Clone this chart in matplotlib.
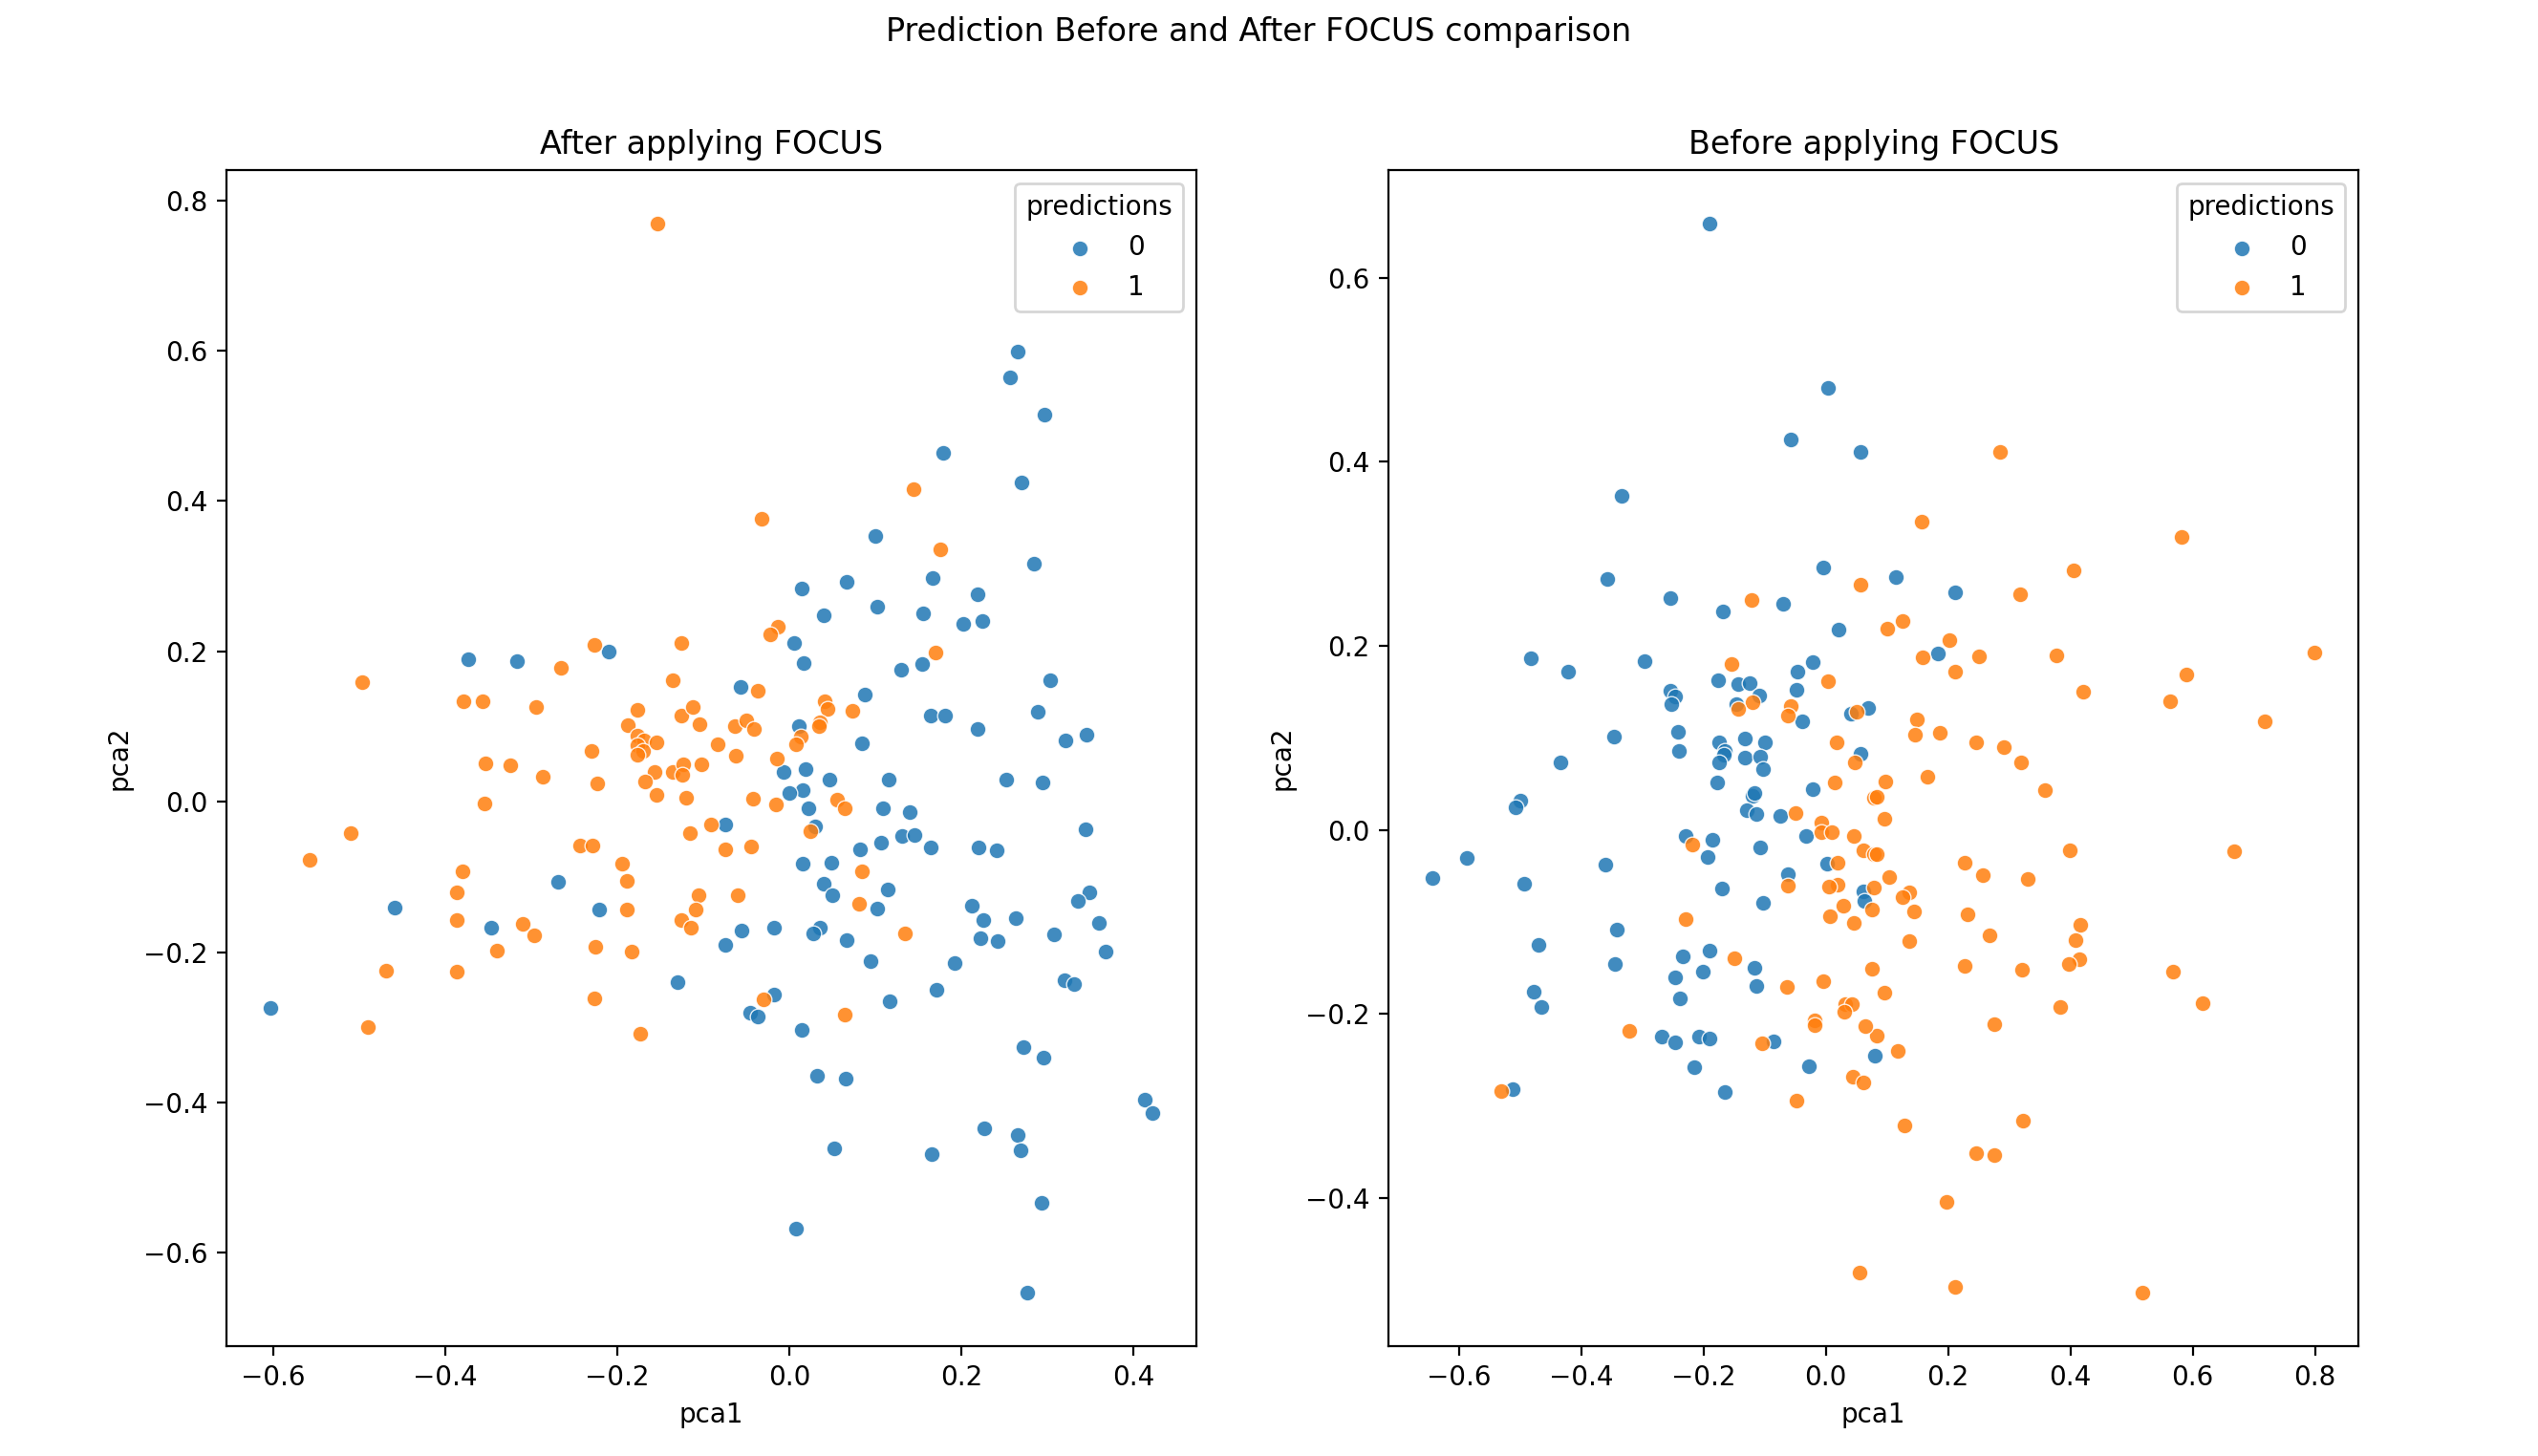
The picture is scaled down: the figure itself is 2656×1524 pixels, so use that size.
import matplotlib
matplotlib.use('Agg')
import matplotlib.pyplot as plt

# PCA coordinates after FOCUS, split by predicted class
after_x0 = [-0.373, -0.317, -0.210, -0.057, 0.006, 0.017, 0.040, 0.102, 0.156, 0.130,
            0.154, 0.088, 0.164, 0.011, 0.084, -0.007, 0.019, 0.047, 0.116, 0.016,
            0.000, 0.022, 0.109, 0.140, 0.030, -0.074, 0.131, 0.146, 0.107, 0.082,
            0.164, 0.016, 0.049, 0.040, 0.050, 0.114, 0.102, -0.221, -0.056, -0.074,
            -0.018, 0.036, 0.028, 0.067, 0.094, -0.130, 0.171, -0.459, -0.347, -0.603,
            -0.269, 0.212, 0.349, 0.335, 0.360, 0.368, 0.263, 0.225, 0.222, 0.242,
            0.308, 0.192, 0.320, 0.331, 0.117, -0.018, -0.046, -0.037, 0.014, 0.272,
            0.296, 0.032, 0.066, 0.413, 0.422, 0.227, 0.265, 0.269, 0.052, 0.165,
            0.293, 0.008, 0.277, 0.266, 0.257, 0.297, 0.179, 0.270, 0.100, 0.284,
            0.015, 0.067, 0.167, 0.219, 0.202, 0.224, 0.303, 0.181, 0.219, 0.289,
            0.321, 0.346, 0.252, 0.294, 0.220, 0.241, 0.344]
after_y0 = [0.189, 0.187, 0.200, 0.153, 0.211, 0.184, 0.248, 0.260, 0.251, 0.176,
            0.183, 0.142, 0.114, 0.101, 0.078, 0.040, 0.043, 0.029, 0.029, 0.016,
            0.011, -0.009, -0.009, -0.014, -0.033, -0.030, -0.046, -0.044, -0.055, -0.063,
            -0.061, -0.083, -0.081, -0.109, -0.124, -0.117, -0.142, -0.144, -0.171, -0.191,
            -0.168, -0.168, -0.175, -0.184, -0.212, -0.240, -0.250, -0.141, -0.168, -0.274,
            -0.106, -0.138, -0.121, -0.132, -0.161, -0.199, -0.155, -0.158, -0.182, -0.186,
            -0.176, -0.215, -0.237, -0.243, -0.266, -0.257, -0.281, -0.286, -0.303, -0.326,
            -0.340, -0.364, -0.368, -0.396, -0.414, -0.435, -0.443, -0.464, -0.461, -0.469,
            -0.533, -0.568, -0.653, 0.599, 0.564, 0.515, 0.464, 0.425, 0.353, 0.317,
            0.284, 0.292, 0.297, 0.276, 0.237, 0.240, 0.162, 0.115, 0.097, 0.119,
            0.081, 0.089, 0.030, 0.025, -0.061, -0.065, -0.037]

after_x1 = [-0.153, -0.496, -0.226, -0.265, -0.379, -0.356, -0.294, -0.125, -0.136, -0.177,
            -0.188, -0.126, -0.112, -0.104, -0.176, -0.169, -0.176, -0.170, -0.177, -0.154,
            -0.230, -0.353, -0.324, -0.286, -0.223, -0.157, -0.168, -0.136, -0.123, -0.124,
            -0.102, -0.154, -0.120, -0.083, -0.062, -0.063, -0.050, -0.041, -0.037, -0.013,
            -0.022, 0.170, 0.041, 0.045, 0.036, 0.034, 0.073, 0.013, 0.008, -0.014,
            -0.042, -0.016, 0.056, 0.065, 0.024, -0.091, -0.116, -0.074, -0.044, -0.243,
            -0.229, 0.085, 0.081, -0.194, -0.189, -0.189, -0.106, -0.109, -0.126, -0.114,
            -0.060, -0.225, -0.183, 0.134, -0.510, -0.558, -0.380, -0.386, -0.387, -0.310,
            -0.297, -0.340, -0.469, -0.386, -0.490, -0.354, -0.226, -0.173, -0.030, 0.064,
            0.144, -0.032, 0.175]
after_y1 = [0.769, 0.159, 0.208, 0.178, 0.133, 0.133, 0.126, 0.211, 0.162, 0.122,
            0.102, 0.115, 0.126, 0.103, 0.088, 0.081, 0.075, 0.068, 0.062, 0.079,
            0.068, 0.051, 0.049, 0.033, 0.024, 0.040, 0.027, 0.040, 0.050, 0.036,
            0.050, 0.009, 0.005, 0.077, 0.061, 0.100, 0.108, 0.097, 0.148, 0.233,
            0.223, 0.199, 0.133, 0.123, 0.105, 0.100, 0.121, 0.087, 0.077, 0.057,
            0.004, -0.004, 0.003, -0.009, -0.039, -0.030, -0.042, -0.063, -0.059, -0.058,
            -0.058, -0.092, -0.136, -0.083, -0.105, -0.144, -0.124, -0.144, -0.158, -0.167,
            -0.124, -0.193, -0.199, -0.175, -0.042, -0.077, -0.093, -0.121, -0.158, -0.163,
            -0.178, -0.198, -0.225, -0.226, -0.300, -0.003, -0.261, -0.309, -0.263, -0.283,
            0.416, 0.376, 0.336]

# PCA coordinates before FOCUS, split by predicted class
before_x0 = [-0.190, 0.004, -0.057, 0.057, -0.334, -0.357, -0.254, -0.168, -0.070, -0.004,
             0.021, 0.115, 0.212, 0.184, -0.483, -0.422, -0.296, -0.176, -0.144, -0.125,
             -0.109, -0.146, -0.255, -0.247, -0.252, -0.021, -0.047, -0.048, -0.039, 0.041,
             0.069, -0.242, -0.240, -0.346, -0.434, -0.174, -0.166, -0.167, -0.175, -0.133,
             -0.100, -0.132, -0.108, -0.102, 0.056, -0.178, -0.022, -0.499, -0.507, -0.120,
             -0.117, -0.130, -0.114, -0.075, -0.032, -0.230, -0.185, -0.194, -0.107, -0.361,
             -0.587, -0.643, -0.493, 0.002, -0.062, -0.170, -0.102, 0.062, 0.063, -0.342,
             -0.470, -0.345, -0.478, -0.465, -0.234, -0.191, -0.246, -0.201, -0.239, -0.117,
             -0.113, 0.080, -0.269, -0.247, -0.208, -0.190, -0.085, -0.215, -0.028, -0.165,
             -0.512]
before_y0 = [0.659, 0.480, 0.424, 0.411, 0.363, 0.273, 0.252, 0.237, 0.246, 0.285,
             0.218, 0.275, 0.258, 0.192, 0.187, 0.172, 0.183, 0.163, 0.158, 0.160,
             0.146, 0.137, 0.151, 0.145, 0.137, 0.182, 0.172, 0.152, 0.118, 0.126,
             0.132, 0.107, 0.086, 0.101, 0.073, 0.095, 0.086, 0.082, 0.073, 0.099,
             0.095, 0.079, 0.080, 0.066, 0.083, 0.052, 0.044, 0.032, 0.024, 0.037,
             0.040, 0.021, 0.017, 0.015, -0.007, -0.007, -0.011, -0.029, -0.019, -0.038,
             -0.031, -0.052, -0.059, -0.037, -0.048, -0.064, -0.079, -0.067, -0.077, -0.108,
             -0.125, -0.146, -0.176, -0.193, -0.138, -0.131, -0.160, -0.154, -0.183, -0.150,
             -0.170, -0.245, -0.225, -0.231, -0.225, -0.227, -0.230, -0.258, -0.257, -0.285,
             -0.282]

before_x1 = [0.285, -0.121, 0.057, -0.154, 0.004, -0.120, -0.144, -0.057, -0.062, 0.050,
             0.017, 0.048, 0.014, 0.079, -0.050, -0.007, -0.007, 0.009, 0.046, 0.062,
             0.079, -0.218, 0.019, -0.062, 0.019, 0.005, 0.028, 0.007, 0.045, 0.076,
             0.079, -0.229, 0.100, 0.126, 0.159, 0.149, 0.145, 0.166, 0.098, 0.083,
             0.096, 0.083, 0.103, 0.136, 0.126, 0.144, 0.136, 0.076, 0.096, 0.156,
             0.581, 0.405, 0.317, 0.202, 0.250, 0.212, 0.377, 0.799, 0.589, 0.421,
             0.563, 0.718, 0.186, 0.245, 0.291, 0.319, 0.358, 0.399, 0.667, 0.227,
             0.256, 0.330, 0.231, 0.416, 0.268, 0.409, 0.415, 0.397, 0.227, 0.321,
             0.568, 0.616, 0.383, 0.276, 0.084, 0.118, 0.128, 0.322, 0.246, 0.276,
             0.198, 0.212, 0.517, 0.055, -0.150, -0.064, -0.004, 0.032, 0.043, 0.030,
             -0.018, -0.019, 0.064, -0.104, 0.044, 0.062, -0.048, -0.321, -0.531]
before_y1 = [0.411, 0.250, 0.266, 0.180, 0.162, 0.139, 0.131, 0.135, 0.124, 0.128,
             0.095, 0.073, 0.052, 0.035, 0.018, 0.008, -0.003, -0.003, -0.007, -0.022,
             -0.026, -0.016, -0.036, -0.061, -0.060, -0.062, -0.082, -0.094, -0.101, -0.087,
             -0.063, -0.097, 0.219, 0.227, 0.188, 0.120, 0.103, 0.058, 0.053, 0.036,
             0.012, -0.026, -0.051, -0.068, -0.073, -0.089, -0.121, -0.151, -0.177, 0.335,
             0.318, 0.282, 0.256, 0.206, 0.189, 0.172, 0.190, 0.193, 0.169, 0.150,
             0.140, 0.118, 0.106, 0.095, 0.090, 0.073, 0.043, -0.022, -0.023, -0.036,
             -0.049, -0.053, -0.092, -0.103, -0.115, -0.120, -0.141, -0.146, -0.148, -0.152,
             -0.154, -0.188, -0.193, -0.211, -0.224, -0.240, -0.321, -0.316, -0.351, -0.353,
             -0.404, -0.497, -0.503, -0.481, -0.140, -0.171, -0.164, -0.189, -0.189, -0.198,
             -0.207, -0.212, -0.213, -0.232, -0.268, -0.275, -0.294, -0.219, -0.284]

cores = ['#1f77b4', '#ff7f0e']

fig = plt.figure(figsize=(13.28, 7.62), dpi=200)
ax1 = fig.add_axes([0.0892, 0.0755, 0.3822, 0.8077])
ax2 = fig.add_axes([0.5471, 0.0755, 0.3822, 0.8077])


def desenha(ax, x0, y0, x1, y1, titulo):
    ax.scatter(x0, y0, s=36, color=cores[0], alpha=0.85, edgecolors='white', linewidths=0.5, label='0')
    ax.scatter(x1, y1, s=36, color=cores[1], alpha=0.85, edgecolors='white', linewidths=0.5, label='1')
    ax.set_title(titulo)
    ax.set_xlabel('pca1')
    ax.set_ylabel('pca2')
    ax.legend(title='predictions', loc='upper right')


desenha(ax1, after_x0, after_y0, after_x1, after_y1, 'After applying FOCUS')
desenha(ax2, before_x0, before_y0, before_x1, before_y1, 'Before applying FOCUS')

fig.suptitle('Prediction Before and After FOCUS comparison', x=0.4959, y=0.989, fontsize=12)

plt.savefig('out.png', dpi=200)
